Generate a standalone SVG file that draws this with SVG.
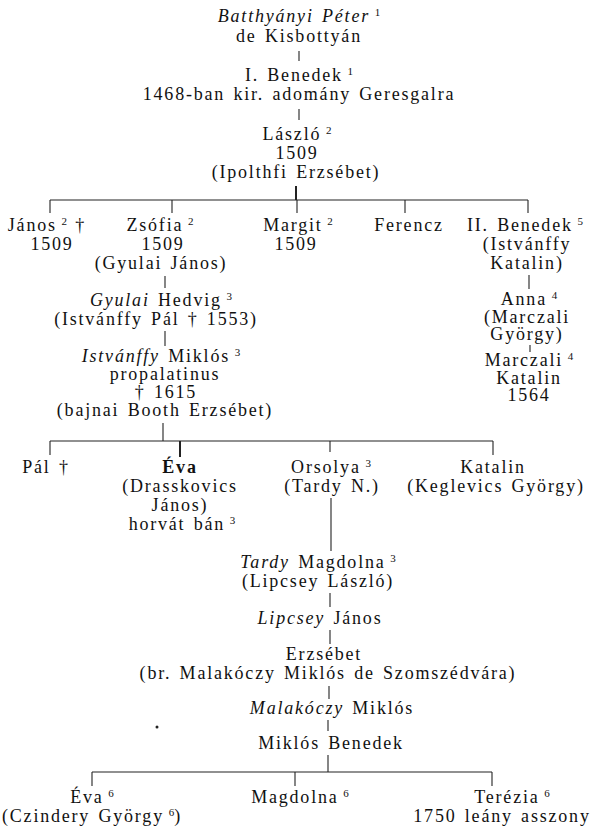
<svg xmlns="http://www.w3.org/2000/svg" width="590" height="830" viewBox="0 0 590 830">
<style>
text{font-family:"Liberation Serif","Times New Roman",serif;font-size:18px;letter-spacing:1.8px;word-spacing:2px;fill:#111;text-anchor:middle}
.i{font-style:italic}
.b{font-weight:bold}
.s{font-size:11px;baseline-shift:6px;letter-spacing:0}
#connectors line{stroke:#222;stroke-width:1.1}
#connectors line.t{stroke-width:2}
</style>
<rect width="590" height="830" fill="#fff"/>
<g id="connectors">
<line x1="299" y1="51" x2="299" y2="61"/>
<line x1="299" y1="109" x2="299" y2="120"/>
<line x1="296" y1="186" x2="296" y2="200" class="t"/>
<line x1="50" y1="200" x2="528" y2="200"/>
<line x1="50" y1="200" x2="50" y2="213"/>
<line x1="172" y1="200" x2="172" y2="213"/>
<line x1="297" y1="200" x2="297" y2="213"/>
<line x1="405" y1="200" x2="405" y2="213"/>
<line x1="528" y1="200" x2="528" y2="213"/>
<line x1="165" y1="276" x2="165" y2="288"/>
<line x1="165" y1="331" x2="165" y2="346"/>
<line x1="529" y1="275" x2="529" y2="289"/>
<line x1="530" y1="345" x2="530" y2="352"/>
<line x1="163" y1="423" x2="163" y2="441"/>
<line x1="50" y1="441" x2="493" y2="441"/>
<line x1="50" y1="441" x2="50" y2="455"/>
<line x1="180" y1="441" x2="180" y2="457" class="t"/>
<line x1="330" y1="441" x2="330" y2="452"/>
<line x1="493" y1="441" x2="493" y2="455"/>
<line x1="331" y1="498" x2="331" y2="551"/>
<line x1="330" y1="593" x2="330" y2="607"/>
<line x1="330" y1="630" x2="330" y2="644"/>
<line x1="329" y1="686" x2="329" y2="699"/>
<line x1="328" y1="720" x2="328" y2="731"/>
<line x1="328" y1="755" x2="328" y2="772"/>
<line x1="92" y1="772" x2="492" y2="772"/>
<line x1="92" y1="772" x2="92" y2="786"/>
<line x1="295" y1="772" x2="295" y2="786"/>
<line x1="492" y1="772" x2="492" y2="786"/>
</g>
<g id="batthyanyi-peter">
<text x="299" y="22"><tspan class="i">Batthyányi Péter</tspan><tspan class="s"> 1</tspan></text>
<text x="299" y="42">de Kisbottyán</text>
</g>
<g id="benedek-i">
<text x="299" y="81">I. Benedek<tspan class="s"> 1</tspan></text>
<text x="299" y="100">1468-ban kir. adomány Geresgalra</text>
</g>
<g id="laszlo">
<text x="297" y="140">László<tspan class="s"> 2</tspan></text>
<text x="297" y="159">1509</text>
<text x="296" y="178">(Ipolthfi Erzsébet)</text>
</g>
<g id="janos">
<text x="47" y="231">János<tspan class="s"> 2</tspan><tspan> †</tspan></text>
<text x="52" y="250">1509</text>
</g>
<g id="zsofia">
<text x="160" y="231">Zsófia<tspan class="s"> 2</tspan></text>
<text x="163" y="250">1509</text>
<text x="161" y="269">(Gyulai János)</text>
</g>
<g id="margit">
<text x="298" y="231">Margit<tspan class="s"> 2</tspan></text>
<text x="296" y="250">1509</text>
</g>
<g id="ferencz">
<text x="409" y="231">Ferencz</text>
</g>
<g id="benedek-ii">
<text x="525" y="231">II. Benedek<tspan class="s"> 5</tspan></text>
<text x="527" y="250">(Istvánffy</text>
<text x="527" y="269">Katalin)</text>
</g>
<g id="hedvig">
<text x="161" y="306"><tspan class="i">Gyulai</tspan> Hedvig<tspan class="s"> 3</tspan></text>
<text x="156" y="325">(Istvánffy Pál † 1553)</text>
</g>
<g id="istvanffy-miklos">
<text x="161" y="362"><tspan class="i">Istvánffy</tspan> Miklós<tspan class="s"> 3</tspan></text>
<text x="165" y="380">propalatinus</text>
<text x="166" y="398">† 1615</text>
<text x="165" y="416">(bajnai Booth Erzsébet)</text>
</g>
<g id="anna">
<text x="529" y="305">Anna<tspan class="s"> 4</tspan></text>
<text x="527" y="323">(Marczali</text>
<text x="527" y="340">György)</text>
</g>
<g id="marczali-katalin">
<text x="529" y="366">Marczali<tspan class="s"> 4</tspan></text>
<text x="529" y="384">Katalin</text>
<text x="529" y="401">1564</text>
</g>
<g id="pal">
<text x="46" y="473">Pál †</text>
</g>
<g id="eva">
<text x="180" y="473" class="b">Éva</text>
<text x="180" y="492">(Drasskovics</text>
<text x="180" y="511">János)</text>
<text x="182" y="530">horvát bán<tspan class="s"> 3</tspan></text>
</g>
<g id="orsolya">
<text x="331" y="473">Orsolya<tspan class="s"> 3</tspan></text>
<text x="332" y="492">(Tardy N.)</text>
</g>
<g id="katalin">
<text x="493" y="473">Katalin</text>
<text x="496" y="492">(Keglevics György)</text>
</g>
<g id="tardy-magdolna">
<text x="318" y="568"><tspan class="i">Tardy</tspan> Magdolna<tspan class="s"> 3</tspan></text>
<text x="318" y="587">(Lipcsey László)</text>
</g>
<g id="lipcsey-janos">
<text x="320" y="624"><tspan class="i">Lipcsey</tspan> János</text>
</g>
<g id="erzsebet">
<text x="324" y="660">Erzsébet</text>
<text x="328" y="679">(br. Malakóczy Miklós de Szomszédvára)</text>
</g>
<g id="malakoczy-miklos">
<text x="332" y="714"><tspan class="i">Malakóczy</tspan> Miklós</text>
</g>
<g id="miklos-benedek">
<text x="331" y="749">Miklós Benedek</text>
</g>
<g id="eva-6">
<text x="92" y="803">Éva<tspan class="s"> 6</tspan></text>
<text x="92" y="822">(Czindery György<tspan class="s"> 6</tspan><tspan>)</tspan></text>
</g>
<g id="magdolna-6">
<text x="300" y="803">Magdolna<tspan class="s"> 6</tspan></text>
</g>
<g id="terezia-6">
<text x="512" y="803">Terézia<tspan class="s"> 6</tspan></text>
<text x="502" y="822">1750 leány asszony</text>
</g>
<circle cx="157" cy="727" r="1.5" fill="#222"/>
</svg>
